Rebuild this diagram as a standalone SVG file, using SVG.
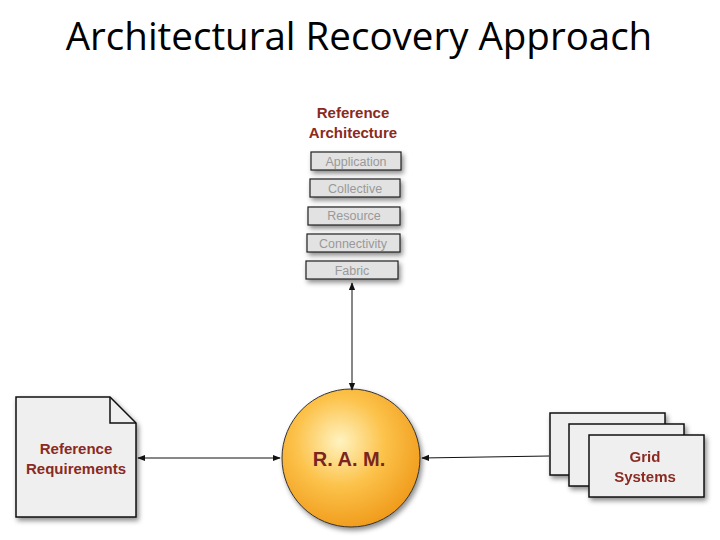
<svg xmlns="http://www.w3.org/2000/svg" width="720" height="540" viewBox="0 0 720 540">
<defs>
<style>
.t{font-family:"Liberation Sans",Arial,sans-serif;font-weight:bold;fill:#8a2a22;text-anchor:middle}
.layer{fill:#e2e2e2;stroke:#222;stroke-width:1.2}
.lt{font-family:"Liberation Sans",Arial,sans-serif;font-size:12.5px;fill:#999;text-anchor:middle}
.card{fill:#efefef;stroke:#111;stroke-width:1.5}
.c{stroke:#111;stroke-width:1;fill:none;marker-end:url(#a)}
</style>
<marker id="a" viewBox="0 0 10 10" refX="9" refY="5" markerWidth="8" markerHeight="8" orient="auto-start-reverse"><path d="M0,1 L10,5 L0,9 Z" fill="#111"/></marker>
<radialGradient id="g" cx="0.42" cy="0.38" r="0.65"><stop offset="0" stop-color="#fff3c0"/><stop offset="0.5" stop-color="#fcc24a"/><stop offset="1" stop-color="#f09a1a"/></radialGradient>
<filter id="s" x="-20%" y="-20%" width="150%" height="150%"><feDropShadow dx="2" dy="3" stdDeviation="2.5" flood-opacity="0.45"/></filter>
</defs>
<rect width="720" height="540" fill="#fff"/>
<text x="359" y="50" font-family="'Open Sans','Liberation Sans',sans-serif" font-size="38.5" text-anchor="middle" fill="#000">Architectural Recovery Approach</text>
<g id="arch">
<text class="t" x="353" y="118" font-size="15">Reference</text>
<text class="t" x="353" y="138" font-size="15">Architecture</text>
<g filter="url(#s)">
<rect class="layer" x="311" y="152" width="90" height="18"/>
<rect class="layer" x="310" y="179" width="90" height="18"/>
<rect class="layer" x="308" y="207" width="92" height="18"/>
<rect class="layer" x="307" y="234" width="93" height="18"/>
<rect class="layer" x="306" y="261" width="92" height="18"/>
</g>
<text class="lt" x="356" y="166">Application</text>
<text class="lt" x="355" y="193">Collective</text>
<text class="lt" x="354" y="220">Resource</text>
<text class="lt" x="353" y="248">Connectivity</text>
<text class="lt" x="352" y="275">Fabric</text>
</g>
<g id="req">
<path d="M16,397 H110 L136,423 V517 H16 Z" class="card" filter="url(#s)"/>
<path d="M110,397 V423 H136" fill="none" stroke="#111" stroke-width="1.5"/>
<text class="t" x="76" y="454" font-size="15">Reference</text>
<text class="t" x="76" y="474" font-size="15">Requirements</text>
</g>
<g id="ram">
<circle cx="351" cy="458" r="69" fill="url(#g)" stroke="#333" stroke-width="1" filter="url(#s)"/>
<text x="349" y="466" font-family="'Liberation Sans',Arial,sans-serif" font-weight="bold" font-size="20" fill="#7a2520" text-anchor="middle">R. A. M.</text>
</g>
<g id="grid" filter="url(#s)">
<rect class="card" x="550" y="413" width="115" height="62"/>
<rect class="card" x="569" y="424" width="115" height="62"/>
<rect class="card" x="589" y="435" width="115" height="62"/>
<text class="t" x="645" y="462" font-size="15">Grid</text>
<text class="t" x="645" y="482" font-size="15">Systems</text>
</g>
<g id="connectors">
<path class="c" d="M352,283 V390" style="marker-start:url(#a)"/>
<path class="c" d="M138,458 H280" style="marker-start:url(#a)"/>
<path class="c" d="M549,456 L422,458"/>
</g>
</svg>
